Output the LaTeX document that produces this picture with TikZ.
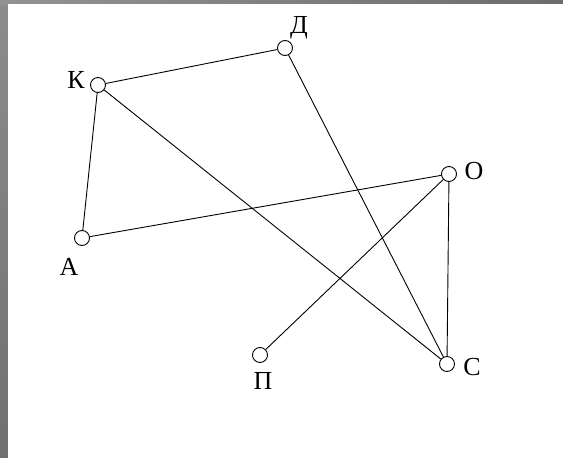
\documentclass[tikz,border=0pt]{standalone}
\usepackage{fontspec}
\setmainfont{Liberation Serif}
\begin{document}
\begin{tikzpicture}[x=1pt, y=-1pt]
        \tikzset{
            topframe/.style={left color=gray!85!white, right color=gray!85!black},
            sideframe/.style={top color=gray!90!white, bottom color=gray!88!black},
            vertex/.style={draw=black, fill=white, circle, inner sep=0pt, minimum size=15pt, line width=0.9pt},
            edge/.style={draw=black, line width=0.9pt},
            labeltext/.style={font=\fontsize{26}{26}\selectfont, inner sep=0pt}
        }

        % frame
        \useasboundingbox (0,0) rectangle (563,458);
        \fill[sideframe] (0,0) rectangle (8,458);
        \fill[topframe] (0,0) rectangle (563,4);
        \fill[white] (8,4) rectangle (563,458);

        % vertices
        \node[vertex] (k) at (98,85) {};
        \node[vertex] (d) at (285,48) {};
        \node[vertex] (o) at (449,174) {};
        \node[vertex] (a) at (82,238) {};
        \node[vertex] (p) at (260,355) {};
        \node[vertex] (c) at (447,364) {};

        % labels
        \node[labeltext] (lk) at (76,80) {К};
        \node[labeltext] (ld) at (299,28) {Д};
        \node[labeltext] (lo) at (474,171) {О};
        \node[labeltext] (la) at (69,267) {А};
        \node[labeltext] (lp) at (263,381) {П};
        \node[labeltext] (lc) at (472,367) {С};

        % edges
        \draw[edge] (k) -- (d);
        \draw[edge] (k) -- (a);
        \draw[edge] (k) -- (c);
        \draw[edge] (d) -- (c);
        \draw[edge] (a) -- (o);
        \draw[edge] (o) -- (p);
        \draw[edge] (o) -- (c);
    \end{tikzpicture}
\end{document}
